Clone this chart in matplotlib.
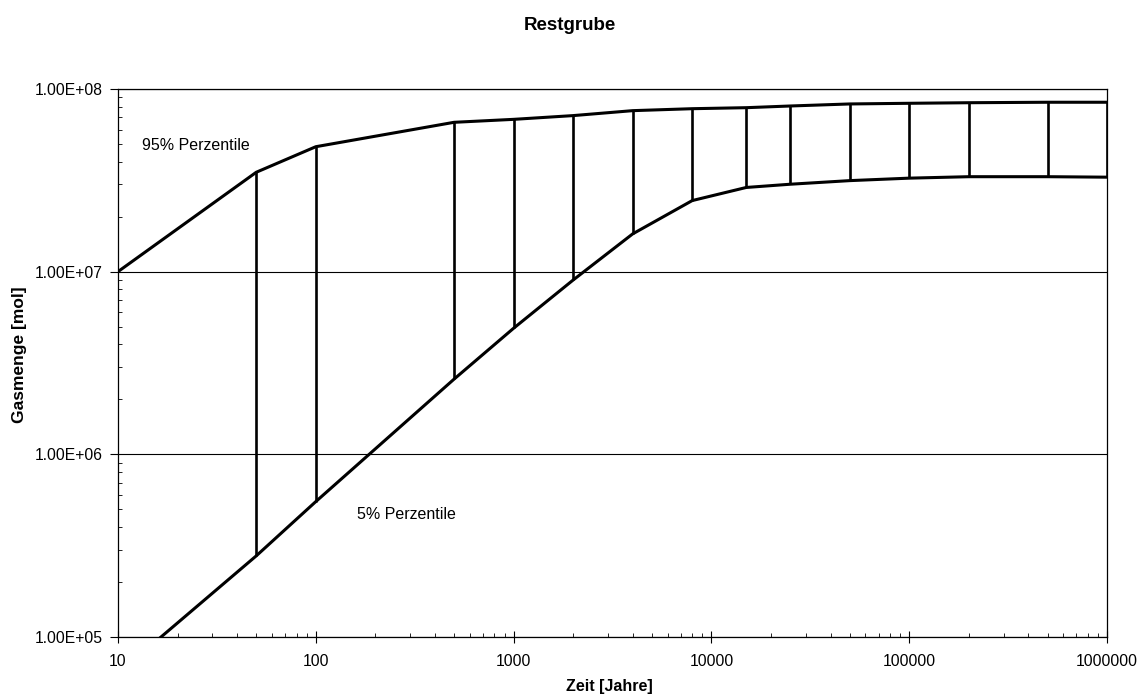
import numpy as np
import matplotlib.pyplot as plt
from matplotlib.ticker import FixedLocator, FuncFormatter, LogLocator, NullFormatter

plt.rcParams['font.family'] = ['Liberation Sans', 'DejaVu Sans']

# Zeitpunkte [Jahre]
zeit = [10, 50, 100, 500, 1000, 2000, 4000, 8000, 15000, 25000,
        50000, 100000, 200000, 500000, 1000000]
# 95% Perzentile [mol]
p95 = [1.0e7, 3.50e7, 4.83e7, 6.57e7, 6.82e7, 7.15e7, 7.61e7, 7.80e7, 7.90e7,
       8.07e7, 8.28e7, 8.35e7, 8.41e7, 8.46e7, 8.46e7]
# 5% Perzentile [mol]
p5 = [6.3e4, 2.78e5, 5.51e5, 2.58e6, 4.90e6, 9.0e6, 1.61e7, 2.45e7, 2.89e7,
      3.01e7, 3.15e7, 3.25e7, 3.31e7, 3.31e7, 3.29e7]

y_ticks = [1e5, 1e6, 1e7, 1e8]
x_ticks = [10, 100, 1000, 10000, 100000, 1000000]

fig = plt.figure(figsize=(11.42, 6.99), dpi=100)
ax = fig.add_axes([0.1033, 0.0887, 0.8661, 0.784])

ax.set_xscale('log')
ax.set_yscale('log')

ax.plot(zeit, p95, color='black', lw=2.2, solid_capstyle='round')
ax.plot(zeit, p5, color='black', lw=2.2, solid_capstyle='round')
# Verbindungslinien zwischen den Perzentilen
ax.vlines(zeit[1:], p5[1:], p95[1:], color='black', lw=1.9)

ax.set_xlim(10, 1000000)
ax.set_ylim(1e5, 1e8)

ax.yaxis.set_major_locator(FixedLocator(y_ticks))
ax.yaxis.set_major_formatter(FuncFormatter(lambda v, p: '%.2E' % v))
ax.yaxis.set_minor_locator(LogLocator(base=10, subs=np.arange(2, 10)))
ax.yaxis.set_minor_formatter(NullFormatter())
ax.xaxis.set_major_locator(FixedLocator(x_ticks))
ax.xaxis.set_major_formatter(FuncFormatter(lambda v, p: '%d' % v))
ax.xaxis.set_minor_locator(LogLocator(base=10, subs=np.arange(2, 10)))
ax.xaxis.set_minor_formatter(NullFormatter())

ax.grid(axis='y', which='major', color='black', lw=0.8)
ax.set_axisbelow(True)

ax.tick_params(axis='y', which='major', direction='out', length=6, width=0.8, labelsize=11.3, pad=5)
ax.tick_params(axis='x', which='major', direction='inout', length=8, width=0.8, labelsize=11.3, pad=8)
ax.tick_params(which='minor', direction='in', length=3, width=0.6)

for s in ax.spines.values():
    s.set_linewidth(0.9)

ax.text(0.024, 0.896, '95% Perzentile', transform=ax.transAxes, fontsize=11.5, va='center')
ax.text(0.2415, 0.224, '5% Perzentile', transform=ax.transAxes, fontsize=11.5, va='center')

ax.set_xlabel('Zeit [Jahre]', fontsize=11.5, fontweight='bold')
ax.xaxis.set_label_coords(0.497, -0.076)
ax.set_ylabel('Gasmenge [mol]', fontsize=12.5, fontweight='bold')
ax.yaxis.set_label_coords(-0.092, 0.516)

fig.text(0.499, 0.964, 'Restgrube', fontsize=13.5, fontweight='bold', ha='center', va='center')

fig.savefig('out.png', dpi=100)
